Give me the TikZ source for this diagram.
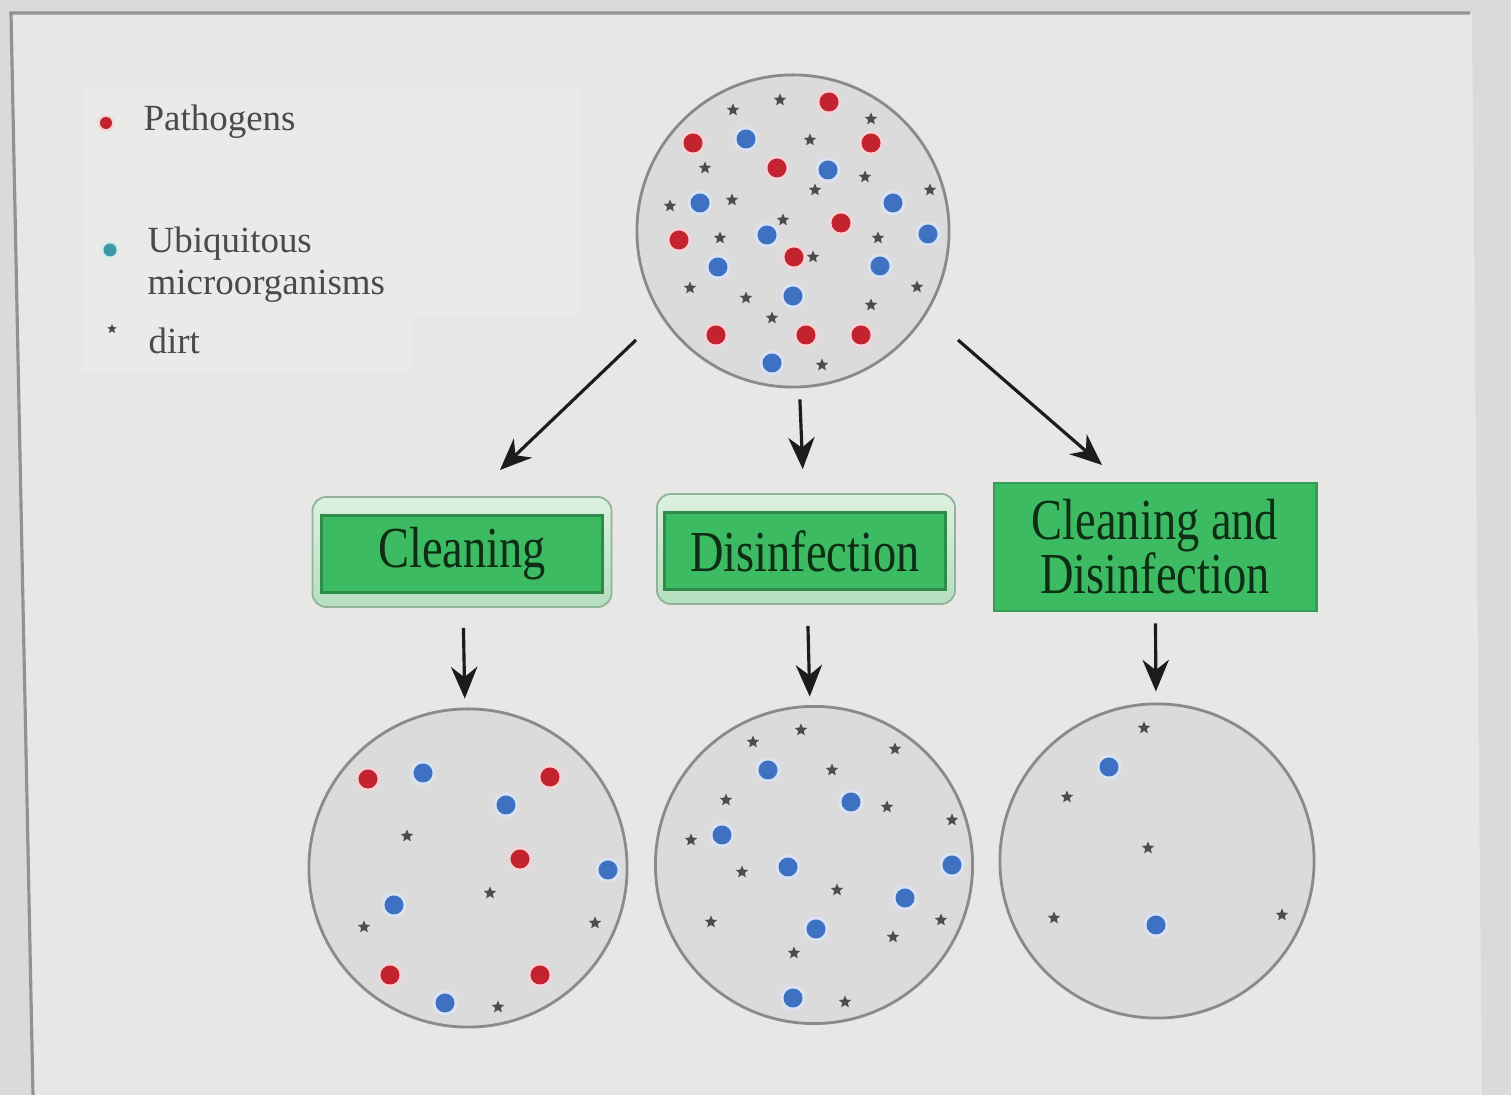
\documentclass[tikz,border=0pt]{standalone}
\usepackage{fontspec}
\setmainfont{Liberation Serif}
\newfontfamily\boxfont[FakeStretch=0.8]{Liberation Serif}
\usetikzlibrary{arrows.meta,shapes.geometric,positioning}

\definecolor{outside}{HTML}{DADAD8}
\definecolor{slidebg}{HTML}{E7E7E5}
\definecolor{legendbg}{HTML}{EAEAE8}
\definecolor{frameline}{HTML}{929292}
\definecolor{dishfill}{HTML}{DBDBDB}
\definecolor{dishline}{HTML}{8A8A8A}
\definecolor{pathred}{HTML}{C2232F}
\definecolor{ubiqblue}{HTML}{3F71C3}
\definecolor{ubiqteal}{HTML}{3C98A6}
\definecolor{dirtcol}{HTML}{4F4B4B}
\definecolor{boxgreen}{HTML}{3DBB63}
\definecolor{boxedge}{HTML}{2D8C4A}
\definecolor{paletop}{HTML}{DCF1E0}
\definecolor{palebot}{HTML}{B5DEBF}
\definecolor{boxtext}{HTML}{0D2E14}
\definecolor{legtext}{HTML}{4A4A4A}
\definecolor{arrowcol}{HTML}{1C1C1C}

\tikzset{
  dish/.style={circle,
               draw = dishline,
               line width = 0.8pt,
               fill = dishfill,
               inner sep = 0pt},
  outerbox/.style={rectangle,
                   rounded corners = 4pt,
                   draw = palebot!80!black,
                   line width = 0.5pt,
                   top color = paletop,
                   bottom color = palebot},
  innerbox/.style={rectangle,
                   draw = boxedge,
                   line width = 0.8pt,
                   fill = boxgreen,
                   text = boxtext,
                   font = \boxfont\fontsize{16.5}{15.4}\selectfont},
  dirt/.style={star,
               star points = 5,
               star point ratio = 2.2,
               fill = dirtcol,
               inner sep = 0pt,
               minimum size = 0.13cm},
  legend/.style={anchor = base west,
                 text = legtext,
                 inner sep = 0pt,
                 font = \fontsize{10.5}{12.6}\selectfont},
  halo/.style={fill = white!80!#1},
  flow/.style={color = arrowcol,
               line width = 0.9pt}
}

\begin{document}
\begin{tikzpicture}[->,>={Stealth[length=9pt,width=7.5pt]}, x=0.01cm, y=-0.01cm]

  \useasboundingbox (0,0) rectangle (1511,1095);

  % slide
  \fill[outside] (0,0) rectangle (1511,1095);
  \fill[slidebg] (11,13) -- (1472,14) -- (1482,1095) -- (33,1095) -- cycle;
  \draw[-, frameline, line width = 0.9pt] (1470,13) -- (11,13) -- (33,1095);

  % legend
  \fill[legendbg] (82,88) rectangle (578,318);
  \fill[legendbg] (82,318) rectangle (410,372);
  \fill[halo=pathred] (106,123) circle (0.085cm);
  \fill[pathred] (106,123) circle (0.06cm);
  \fill[halo=ubiqteal] (110,250) circle (0.09cm);
  \fill[ubiqteal] (110,250) circle (0.065cm);
  \node[dirt, minimum size = 0.1cm] (legdirt) at (112,329) {};

  \node[legend] (pathlab) at (143,131) {Pathogens};
  \node[legend] (ubiqlab) at (147,253) {Ubiquitous};
  \node[legend] (microlab) at ([yshift=-0.41cm]ubiqlab.base west) {microorganisms};
  \node[legend] (dirtlab) at (148,354) {dirt};

  % dishes
  \node[dish, minimum size = 3.12cm] (dishtop) at (793,231) {};
  \node[dish, minimum size = 3.18cm] (dishclean) at (468,868) {};
  \node[dish, minimum size = 3.17cm] (dishdis) at (814,865) {};
  \node[dish, minimum size = 3.14cm] (dishboth) at (1157,861) {};

  % pathogens
  \foreach \x/\y in {829/102, 693/143, 871/143, 777/168, 841/223, 679/240,
                     794/257, 716/335, 806/335, 861/335,
                     368/779, 550/777, 520/859, 390/975, 540/975}
    {\fill[halo=pathred] (\x,\y) circle (0.125cm);
     \fill[pathred] (\x,\y) circle (0.095cm);}

  % ubiquitous microorganisms
  \foreach \x/\y in {746/139, 828/170, 700/203, 893/203, 767/235, 928/234,
                     718/267, 880/266, 793/296, 772/363,
                     423/773, 506/805, 608/870, 394/905, 445/1003,
                     768/770, 851/802, 722/835, 788/867, 952/865, 905/898,
                     816/929, 793/998,
                     1109/767, 1156/925}
    {\fill[halo=ubiqblue] (\x,\y) circle (0.125cm);
     \fill[ubiqblue] (\x,\y) circle (0.095cm);}

  % dirt
  \foreach [count=\i] \x/\y in {733/110, 780/100, 871/119, 810/140, 705/168,
                                865/177, 815/190, 930/190, 670/206, 732/200,
                                783/220, 720/238, 878/238, 813/257, 690/288,
                                746/298, 917/287, 871/305, 772/318, 822/365}
    \node[dirt] (dt\i) at (\x,\y) {};
  \foreach [count=\i] \x/\y in {407/836, 490/893, 364/927, 595/923, 498/1007}
    \node[dirt] (dc\i) at (\x,\y) {};
  \foreach [count=\i] \x/\y in {753/742, 801/730, 895/749, 832/770, 726/800,
                                887/807, 952/820, 691/840, 742/872, 837/890,
                                711/922, 941/920, 893/937, 794/953, 845/1002}
    \node[dirt] (dd\i) at (\x,\y) {};
  \foreach [count=\i] \x/\y in {1144/728, 1067/797, 1148/848, 1054/918, 1282/915}
    \node[dirt] (db\i) at (\x,\y) {};

  % treatments
  \node[outerbox,
        minimum width = 2.99cm,
        minimum height = 1.10cm
        ] (cleanbg) at (462,552) {};
  \node[innerbox,
        minimum width = 2.81cm,
        minimum height = 0.75cm
        ] (clean) at (462,554) {Cleaning};

  \node[outerbox,
        minimum width = 2.98cm,
        minimum height = 1.10cm
        ] (disinfbg) at (806,549) {};
  \node[innerbox,
        minimum width = 2.81cm,
        minimum height = 0.77cm
        ] (disinf) at (805,551) {Disinfection};

  \node[innerbox,
        draw = boxgreen!85!black,
        align = center,
        minimum width = 3.22cm,
        minimum height = 1.28cm
        ] (both) at (1155,547) {Cleaning and\\Disinfection};

  \coordinate (tl0) at (636,340);
  \coordinate (tl1) at (500,470);
  \coordinate (tr0) at (958,340);
  \coordinate (tr1) at (1102,465);

  \path[flow]
  (tl0) edge [] (tl1)
  (dishtop) edge [shorten <= 0.11cm, shorten >= 0.24cm] (disinfbg)
  (tr0) edge [] (tr1)
  (cleanbg) edge [shorten <= 0.2cm, shorten >= 0.09cm] (dishclean)
  (disinfbg) edge [shorten <= 0.21cm, shorten >= 0.085cm] (dishdis)
  (both) edge [shorten <= 0.11cm, shorten >= 0.11cm] (dishboth);

\end{tikzpicture}
\end{document}
